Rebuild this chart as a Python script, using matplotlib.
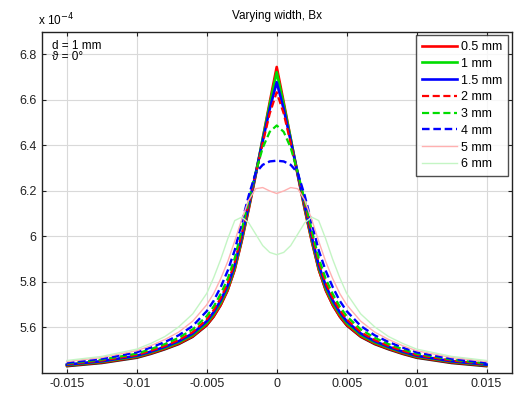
import matplotlib
matplotlib.use("Agg")
import matplotlib.pyplot as plt

plt.rcParams["font.family"] = ["Liberation Sans", "DejaVu Sans"]

# lateral position (m) and Bx (x 1e-4) for each strip width
x_pos = [-0.015, -0.0125, -0.01, -0.009, -0.008, -0.007, -0.006, -0.005, -0.0045,
         -0.004, -0.0035, -0.003, -0.0025, -0.002, -0.0015, -0.001, -0.0005, 0.0,
         0.0005, 0.001, 0.0015, 0.002, 0.0025, 0.003, 0.0035, 0.004, 0.0045,
         0.005, 0.006, 0.007, 0.008, 0.009, 0.01, 0.0125, 0.015]

bx_ref = [5.428, 5.442, 5.465, 5.482, 5.502, 5.525, 5.557, 5.607, 5.645,
          5.695, 5.76, 5.85, 5.975, 6.115, 6.265, 6.425, 6.585, 6.74,
          6.585, 6.425, 6.265, 6.115, 5.975, 5.85, 5.76, 5.695, 5.645,
          5.607, 5.557, 5.525, 5.502, 5.482, 5.465, 5.442, 5.428]
bx_05 = [5.433, 5.447, 5.47, 5.487, 5.507, 5.53, 5.562, 5.612, 5.65,
         5.70, 5.765, 5.855, 5.98, 6.12, 6.27, 6.43, 6.59, 6.745,
         6.59, 6.43, 6.27, 6.12, 5.98, 5.855, 5.765, 5.70, 5.65,
         5.612, 5.562, 5.53, 5.507, 5.487, 5.47, 5.447, 5.433]
bx_1 = [5.435, 5.45, 5.473, 5.491, 5.511, 5.535, 5.568, 5.62, 5.66,
        5.71, 5.775, 5.865, 5.99, 6.13, 6.275, 6.43, 6.58, 6.722,
        6.58, 6.43, 6.275, 6.13, 5.99, 5.865, 5.775, 5.71, 5.66,
        5.62, 5.568, 5.535, 5.511, 5.491, 5.473, 5.45, 5.435]
bx_15 = [5.437, 5.452, 5.476, 5.494, 5.515, 5.54, 5.574, 5.628, 5.668,
         5.72, 5.785, 5.875, 6.0, 6.138, 6.278, 6.42, 6.56, 6.678,
         6.56, 6.42, 6.278, 6.138, 6.0, 5.875, 5.785, 5.72, 5.668,
         5.628, 5.574, 5.54, 5.515, 5.494, 5.476, 5.452, 5.437]
bx_2 = [5.439, 5.455, 5.479, 5.498, 5.519, 5.545, 5.58, 5.636, 5.677,
        5.73, 5.795, 5.887, 6.01, 6.145, 6.278, 6.41, 6.54, 6.634,
        6.54, 6.41, 6.278, 6.145, 6.01, 5.887, 5.795, 5.73, 5.677,
        5.636, 5.58, 5.545, 5.519, 5.498, 5.479, 5.455, 5.439]
bx_3 = [5.442, 5.459, 5.485, 5.505, 5.527, 5.555, 5.592, 5.65, 5.693,
        5.748, 5.815, 5.905, 6.03, 6.16, 6.282, 6.39, 6.46, 6.488,
        6.46, 6.39, 6.282, 6.16, 6.03, 5.905, 5.815, 5.748, 5.693,
        5.65, 5.592, 5.555, 5.527, 5.505, 5.485, 5.459, 5.442]
bx_4 = [5.445, 5.463, 5.491, 5.512, 5.536, 5.566, 5.607, 5.672, 5.718,
        5.778, 5.85, 5.94, 6.06, 6.18, 6.28, 6.315, 6.33, 6.333,
        6.33, 6.315, 6.28, 6.18, 6.06, 5.94, 5.85, 5.778, 5.718,
        5.672, 5.607, 5.566, 5.536, 5.512, 5.491, 5.463, 5.445]
bx_5 = [5.45, 5.468, 5.498, 5.52, 5.547, 5.58, 5.628, 5.70, 5.75,
        5.815, 5.89, 5.98, 6.075, 6.16, 6.21, 6.215, 6.20, 6.189,
        6.20, 6.215, 6.21, 6.16, 6.075, 5.98, 5.89, 5.815, 5.75,
        5.70, 5.628, 5.58, 5.547, 5.52, 5.498, 5.468, 5.45]
bx_6 = [5.455, 5.473, 5.505, 5.53, 5.56, 5.603, 5.66, 5.75, 5.82,
        5.90, 5.99, 6.07, 6.085, 6.06, 6.01, 5.96, 5.93, 5.92,
        5.93, 5.96, 6.01, 6.06, 6.085, 6.07, 5.99, 5.90, 5.82,
        5.75, 5.66, 5.603, 5.56, 5.53, 5.505, 5.473, 5.455]

labels = ["0.5 mm", "1 mm", "1.5 mm", "2 mm", "3 mm", "4 mm", "5 mm", "6 mm"]
x_ticks = [-0.015, -0.01, -0.005, 0, 0.005, 0.01, 0.015]
x_ticklabels = ["-0.015", "-0.01", "-0.005", "0", "0.005", "0.01", "0.015"]
y_ticks = [5.6, 5.8, 6.0, 6.2, 6.4, 6.6, 6.8]
y_ticklabels = ["5.6", "5.8", "6", "6.2", "6.4", "6.6", "6.8"]

dash = (0, (3.2, 1.6))
styles = [
    (bx_05, "#ff0000", "-", 1.9),
    (bx_1, "#00dd00", "-", 1.9),
    (bx_15, "#0000ff", "-", 1.9),
    (bx_2, "#ff0000", dash, 1.6),
    (bx_3, "#00dd00", dash, 1.6),
    (bx_4, "#0000ff", dash, 1.7),
    (bx_5, "#ffb0b0", "-", 1.0),
    (bx_6, "#c4f5c4", "-", 1.0),
]

fig = plt.figure(figsize=(5.15, 3.94), dpi=100)
ax = fig.add_axes([0.081, 0.0533, 0.9126, 0.8662])

ax.plot(x_pos, bx_ref, color="#222222", lw=1.2)
for (vals, col, ls, lw), lab in zip(styles, labels):
    ax.plot(x_pos, vals, color=col, ls=ls, lw=lw, label=lab)

ax.set_xlim(-0.0168, 0.0168)
ax.set_ylim(5.4, 6.9)
ax.set_xticks(x_ticks)
ax.set_xticklabels(x_ticklabels)
ax.set_yticks(y_ticks)
ax.set_yticklabels(y_ticklabels)
ax.tick_params(direction="in", top=True, right=True, labelsize=9,
               length=3, width=0.8, colors="#222222")
ax.grid(True, color="#d9d9d9", lw=0.8)
for s in ax.spines.values():
    s.set_linewidth(1.0)
    s.set_color("#222222")

ax.set_title("Varying width, Bx", fontsize=8.5, pad=9)
fig.text(0.074, 0.928, "x 10$^{-4}$", fontsize=8.5, ha="left", va="bottom")
ax.text(0.022, 0.975, "d = 1 mm\n\u03d1 = 0\u00b0", transform=ax.transAxes,
        fontsize=8.5, va="top", ha="left", linespacing=0.85)

leg = ax.legend(loc="upper right", fontsize=9, frameon=True, fancybox=False,
                borderaxespad=0.3, handlelength=2.8, handletextpad=0.35,
                labelspacing=0.38, borderpad=0.45)
leg.get_frame().set_edgecolor("#222222")
leg.get_frame().set_linewidth(1.0)

fig.savefig("out.png", dpi=100)
